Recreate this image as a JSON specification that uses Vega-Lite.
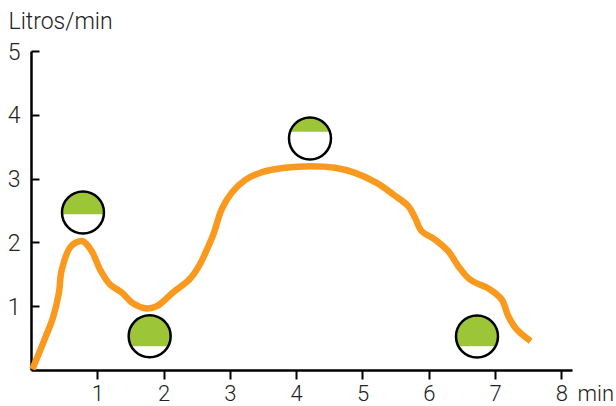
{"$schema":"https://vega.github.io/schema/vega-lite/v6.json","width":541,"height":319,"autosize":{"type":"none"},"padding":{"left":31,"top":51,"right":44,"bottom":36},"background":"white","view":{"stroke":null},"config":{"axis":{"grid":false,"domainColor":"#000","domainWidth":2.5,"tickColor":"#000","tickWidth":2,"labelFont":"Roboto","labelFontWeight":300,"labelFontSize":23,"labelColor":"#222","titleFont":"Roboto","titleFontWeight":300,"titleFontSize":23,"titleColor":"#222"}},"layer":[{"data":{"values":[{"t":0.02,"v":0.01},{"t":0.186,"v":0.431},{"t":0.332,"v":0.823},{"t":0.422,"v":1.215},{"t":0.46,"v":1.55},{"t":0.588,"v":1.92},{"t":0.679,"v":1.998},{"t":0.78,"v":2.019},{"t":0.916,"v":1.862},{"t":1.041,"v":1.575},{"t":1.192,"v":1.34},{"t":1.368,"v":1.215},{"t":1.543,"v":1.042},{"t":1.745,"v":0.964},{"t":1.896,"v":1.0},{"t":2.142,"v":1.215},{"t":2.398,"v":1.43},{"t":2.549,"v":1.66},{"t":2.624,"v":1.82},{"t":2.75,"v":2.124},{"t":2.876,"v":2.516},{"t":3.027,"v":2.777},{"t":3.228,"v":2.975},{"t":3.48,"v":3.1},{"t":3.831,"v":3.17},{"t":4.208,"v":3.194},{"t":4.585,"v":3.17},{"t":4.887,"v":3.09},{"t":5.214,"v":2.934},{"t":5.465,"v":2.751},{"t":5.69,"v":2.567},{"t":5.792,"v":2.386},{"t":5.893,"v":2.176},{"t":6.094,"v":2.045},{"t":6.294,"v":1.862},{"t":6.445,"v":1.627},{"t":6.621,"v":1.418},{"t":6.923,"v":1.262},{"t":7.1,"v":1.105},{"t":7.2,"v":0.843},{"t":7.326,"v":0.635},{"t":7.537,"v":0.451}]},"mark":{"type":"line","color":"#F99A1F","strokeWidth":6.5,"interpolate":"catmull-rom","strokeCap":"butt","clip":false},"encoding":{"x":{"field":"t","type":"quantitative","scale":{"domain":[0,8.16],"nice":false},"axis":{"values":[1,2,3,4,5,6,7,8],"format":"d","tickSize":9,"labelPadding":21,"labelBaseline":"alphabetic","labelFontSize":22,"labelAngle":0,"title":"min","titleFontSize":22,"titleX":546,"titleY":30,"titleAlign":"left","titleBaseline":"alphabetic"}},"y":{"field":"v","type":"quantitative","scale":{"domain":[0,5],"nice":false},"axis":{"values":[1,2,3,4,5],"format":"d","tickSize":-8,"labelPadding":19,"labelOffset":1,"title":"Litros/min","titleAngle":0,"titleX":-23,"titleY":-23,"titleAlign":"left","titleBaseline":"alphabetic"}}}},{"data":{"name":"llenado","values":[{"t":0.784,"v":2.469,"nivel":"mitad"},{"t":1.79,"v":0.53,"nivel":"alto"},{"t":4.208,"v":3.628,"nivel":"bajo"},{"t":6.727,"v":0.525,"nivel":"alto2"}]},"mark":{"type":"point","shape":"circle","filled":true,"fill":"white","stroke":null,"size":1764,"opacity":1},"encoding":{"x":{"field":"t","type":"quantitative"},"y":{"field":"v","type":"quantitative"}}},{"data":{"name":"llenado"},"mark":{"type":"point","filled":true,"fill":"#9DC538","stroke":null,"size":1764,"opacity":1},"encoding":{"x":{"field":"t","type":"quantitative"},"y":{"field":"v","type":"quantitative"},"shape":{"field":"nivel","type":"nominal","legend":null,"scale":{"domain":["mitad","alto","bajo","alto2"],"range":["M-0.997,0.08A1,1 0 1 1 0.997,0.08Z","M-0.877,0.48A1,1 0 1 1 0.877,0.48Z","M-0.947,-0.32A1,1 0 0 1 0.947,-0.32Z","M-0.888,0.46A1,1 0 1 1 0.888,0.46Z"]}}}},{"data":{"name":"llenado"},"mark":{"type":"point","shape":"circle","filled":false,"stroke":"#000","strokeWidth":2.5,"size":1764,"opacity":1},"encoding":{"x":{"field":"t","type":"quantitative"},"y":{"field":"v","type":"quantitative"}}}]}
